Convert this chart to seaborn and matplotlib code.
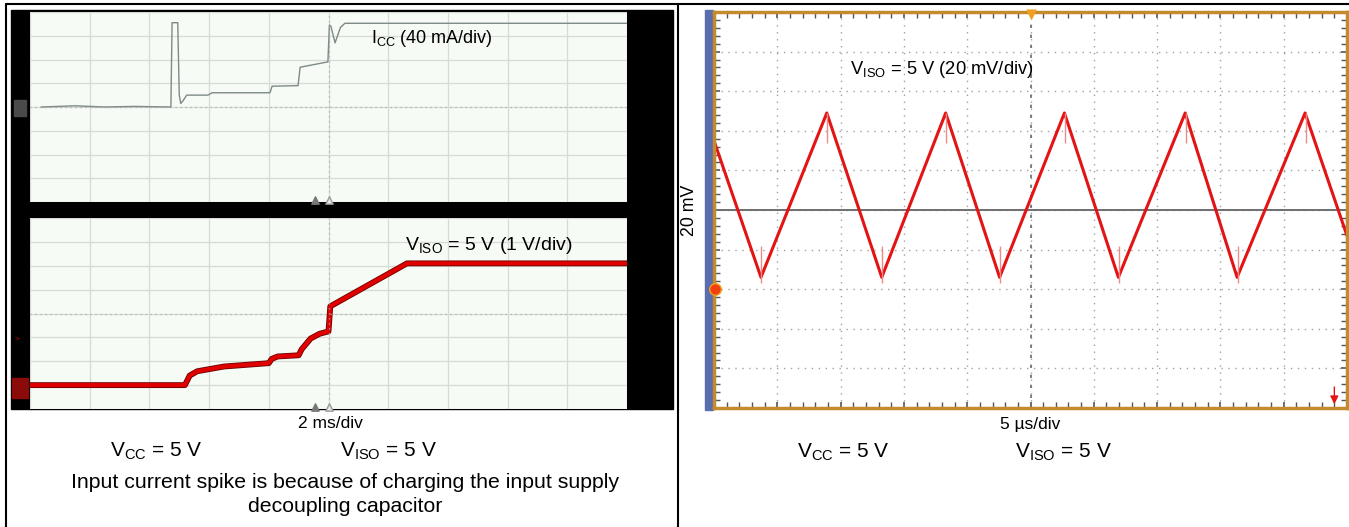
import matplotlib
matplotlib.use("Agg")
import matplotlib.pyplot as plt
from matplotlib.lines import Line2D
from matplotlib.patches import Rectangle
from matplotlib.ticker import MultipleLocator
import matplotlib.patheffects as pe
import seaborn as sns
import pandas as pd

# ICC trace, left scope top screen (time in ms, current in mA, 40 mA/div)
icc_time = [0.37, 1.5, 2.5, 3.5, 4.72, 4.76, 4.95, 5.0, 5.05, 5.12, 5.25, 5.96,
            6.10, 8.04, 8.11, 8.98, 9.05, 9.98, 10.03, 10.08, 10.22, 10.4, 10.55, 20.0]
icc_ma = [0, 2, 0, 1, 0, 142, 142, 20, 6, 10, 20, 20,
          24, 24, 35, 36, 67, 76, 138, 136, 108, 134, 141, 141]

# VISO start-up trace, left scope bottom screen (time in ms, volts, 1 V/div)
viso_time = [0, 5.19, 5.35, 5.6, 6.5, 8.0, 8.1, 8.3, 9.0, 9.1, 9.4, 9.7, 10.0,
             10.06, 12.63, 20.0]
viso_v = [0, 0, 0.4, 0.58, 0.78, 0.92, 1.1, 1.2, 1.25, 1.5, 1.95, 2.15, 2.25,
          3.3, 5.1, 5.1]

# VISO ripple, right scope (time in us, ripple in mV, 20 mV/div)
ripple_time = [0, 3.71, 8.91, 13.25, 18.30, 22.56, 27.68, 31.94, 37.22, 41.32, 46.69, 50.0]
ripple_mv = [35, -34, 49, -34, 49, -34, 49, -34, 49, -34, 49, -13]

# switching glitches on the ripple
peak_time = [8.95, 18.34, 27.72, 37.26, 46.73]
trough_time = [3.75, 13.29, 22.60, 31.98, 41.36]

W, H = 1349, 527

sns.set_theme(style="white")
plt.rcParams["font.family"] = ["Liberation Sans", "DejaVu Sans"]
plt.rcParams["text.color"] = "black"
plt.rcParams["mathtext.fontset"] = "custom"
plt.rcParams["mathtext.rm"] = "Liberation Sans"
plt.rcParams["mathtext.it"] = "Liberation Sans:italic"
plt.rcParams["mathtext.bf"] = "Liberation Sans:bold"
plt.rcParams["mathtext.default"] = "regular"

fig = plt.figure(figsize=(W / 100, H / 100), dpi=100)
fig.patch.set_facecolor("white")


def box(x0, y0, x1, y1):
    return [x0 / W, 1 - y1 / H, (x1 - x0) / W, (y1 - y0) / H]


def fline(xs, ys, **kw):
    fig.add_artist(Line2D([x / W for x in xs], [1 - y / H for y in ys],
                          transform=fig.transFigure, **kw))


# table borders
fline([6, 1349], [4, 4], color="black", lw=1.5)
fline([6, 6], [4, 527], color="black", lw=1.5)
fline([678, 678], [4, 527], color="black", lw=1.5)

# black scope frame on the left
fig.add_artist(Rectangle((11 / W, 1 - 409 / H), 662 / W, 399 / H,
                         transform=fig.transFigure, color="black", zorder=0))
# channel markers in the black strip
fig.add_artist(Rectangle((14 / W, 1 - 116 / H), 12 / W, 16 / H,
                         transform=fig.transFigure, color="#4a4a4a", zorder=1))
fig.add_artist(Rectangle((12 / W, 1 - 398 / H), 16 / W, 20 / H,
                         transform=fig.transFigure, color="#8b0a0a", zorder=1))
fig.text(15 / W, 1 - 339 / H, ">", color="#c01010", fontsize=6, va="center")

# blue strip of the right scope
fig.add_artist(Rectangle((705 / W, 1 - 410 / H), 8 / W, 400 / H,
                         transform=fig.transFigure, color="#5a6eae", zorder=0))


def left_screen(ax, ylim, ystep):
    ax.set_facecolor("#f7fbf5")
    ax.set_xlim(0, 20)
    ax.set_ylim(*ylim)
    ax.xaxis.set_major_locator(MultipleLocator(2))
    ax.yaxis.set_major_locator(MultipleLocator(ystep))
    ax.grid(True, color="#d6dbd6", lw=0.9)
    ax.set_xticklabels([])
    ax.set_yticklabels([])
    ax.tick_params(length=0)
    for s in ax.spines.values():
        s.set_visible(False)
    ax.axvline(10, color="#a8aca8", lw=0.9, ls=(0, (1, 3)))
    ax.axhline((ylim[0] + ylim[1]) / 2, color="#a8aca8", lw=0.9, ls=(0, (1, 3)))
    ax.set_xlabel("")
    ax.set_ylabel("")
    ax.scatter([9.55], [ylim[0] + 0.012 * (ylim[1] - ylim[0])], marker="^", s=28,
               color="#777777", zorder=5, clip_on=False)
    ax.scatter([10.02], [ylim[0] + 0.012 * (ylim[1] - ylim[0])], marker="^", s=28,
               facecolor="#e8e8e8", edgecolor="#999999", zorder=5, clip_on=False)


# top screen: ICC
ax1 = fig.add_axes(box(30, 12, 627, 202))
icc_df = pd.DataFrame({"t": icc_time, "i": icc_ma})
sns.lineplot(data=icc_df, x="t", y="i", ax=ax1, color="#7d8a88", lw=1.0)
left_screen(ax1, (-160, 160), 40)
ax1.text(0.572, 0.86, r"I$_{\mathrm{CC}}$ (40 mA/div)", transform=ax1.transAxes,
         fontsize=13, va="center")

# bottom screen: VISO
ax2 = fig.add_axes(box(30, 218, 627, 409))
viso_df = pd.DataFrame({"t": viso_time, "v": viso_v})
sns.lineplot(data=viso_df, x="t", y="v", ax=ax2, color="#e00000", lw=3.0,
             path_effects=[pe.Stroke(linewidth=4.2, foreground="#6a0000"), pe.Normal()])
left_screen(ax2, (-1, 7), 1)
ax2.text(0.628, 0.855, r"V$_{\mathrm{ISO}}$ = 5 V (1 V/div)", transform=ax2.transAxes,
         fontsize=14, va="center")

# right scope: ripple
ax3 = fig.add_axes(box(714, 12, 1347, 408))
ax3.set_facecolor("white")
ax3.set_xlim(0, 50)
ax3.set_ylim(-100, 100)
ax3.xaxis.set_major_locator(MultipleLocator(5))
ax3.yaxis.set_major_locator(MultipleLocator(20))
ax3.xaxis.set_minor_locator(MultipleLocator(1))
ax3.yaxis.set_minor_locator(MultipleLocator(4))
ax3.grid(True, which="major", color="#a0a0a0", lw=1.0, ls=(0, (1, 4)))
ax3.tick_params(which="both", direction="in", top=True, right=True, bottom=True,
                left=True, color="#555555", labelbottom=False, labelleft=False)
ax3.tick_params(which="major", length=4, width=1.2)
ax3.tick_params(which="minor", length=4, width=1.0)
for s in ax3.spines.values():
    s.set_color("#c48a2e")
    s.set_linewidth(2.5)
ax3.axvline(25, color="#6a6a6a", lw=1.2, ls=(0, (2, 4)))
ax3.axhline(0, color="#6f6f6f", lw=1.4)
ripple_df = pd.DataFrame({"t": ripple_time, "mv": ripple_mv})
sns.lineplot(data=ripple_df, x="t", y="mv", ax=ax3, color="#e31414", lw=2.2)
ax3.vlines(peak_time, 34, 49, color="#ef8a8a", lw=1.0)
ax3.vlines(trough_time, -37, -18, color="#ef8a8a", lw=1.0)
ax3.set_xlabel("")
ax3.set_ylabel("")
ax3.scatter([25], [99], marker="v", s=40, color="#f0a020", zorder=6, clip_on=False)
ax3.scatter([0.1], [-40], marker="o", s=70, color="#f04010", edgecolor="#f0a020",
            zorder=6, clip_on=False)
ax3.annotate("", xy=(49.0, -99.5), xytext=(49.0, -88),
             arrowprops=dict(arrowstyle="-|>", color="#e31414", lw=1.0))
ax3.text(0.215, 0.855, r"V$_{\mathrm{ISO}}$ = 5 V (20 mV/div)", transform=ax3.transAxes,
         fontsize=13.2, va="center")

# captions
fig.text(330 / W, 1 - 424 / H, "2 ms/div", fontsize=12.5, ha="center", va="center")
fig.text(110 / W, 1 - 451 / H, r"V$_{\mathrm{CC}}$ = 5 V", fontsize=15, va="center")
fig.text(340 / W, 1 - 451 / H, r"V$_{\mathrm{ISO}}$ = 5 V", fontsize=15, va="center")
fig.text(345 / W, 1 - 483 / H, "Input current spike is because of charging the input supply",
         fontsize=15.3, ha="center", va="center")
fig.text(345 / W, 1 - 507 / H, "decoupling capacitor", fontsize=15.3, ha="center",
         va="center")

fig.text(689 / W, 1 - 210 / H, "20 mV", fontsize=12.8, rotation=90, ha="center",
         va="center")
fig.text(1030 / W, 1 - 424 / H, "5 µs/div", fontsize=12.5, ha="center", va="center")
fig.text(797 / W, 1 - 452 / H, r"V$_{\mathrm{CC}}$ = 5 V", fontsize=15, va="center")
fig.text(1015 / W, 1 - 452 / H, r"V$_{\mathrm{ISO}}$ = 5 V", fontsize=15, va="center")

fig.savefig("out.png", dpi=100)
